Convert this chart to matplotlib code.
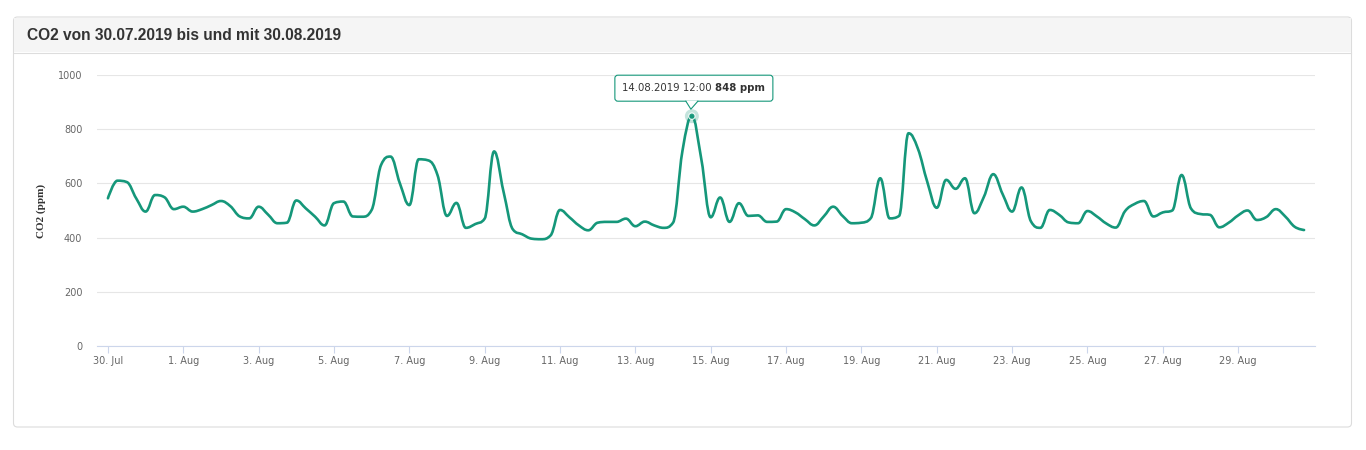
import numpy as np
import pandas as pd
import matplotlib
matplotlib.use("Agg")
import matplotlib.pyplot as plt
import matplotlib.dates as mdates
from matplotlib.path import Path
from matplotlib.patches import PathPatch, FancyBboxPatch, Rectangle, Polygon, Circle
from matplotlib.transforms import IdentityTransform
from matplotlib.lines import Line2D

# ---------------- data ----------------
title = "CO2 von 30.07.2019 bis und mit 30.08.2019"
y_label = "CO2 (ppm)"
start_time = "2019-07-30 00:00"
step = "6h"
co2 = [
    545, 610, 605, 545, 496, 557, 549, 505, 514, 496, 505, 520, 535, 516, 478, 471,
    514, 485, 453, 455, 537, 508, 477, 445, 527, 533, 478, 477, 502, 668, 699, 600,
    520, 689, 685, 630, 480, 528, 436, 450, 470, 718, 570, 430, 412, 396, 394, 408,
    502, 475, 445, 427, 455, 458, 458, 470, 442, 459, 445, 436, 455, 720, 848, 690,
    475, 548, 458, 527, 480, 482, 458, 459, 505, 493, 468, 445, 478, 514, 480, 453,
    455, 472, 619, 471, 480, 785, 728, 605, 510, 613, 580, 619, 490, 550, 634, 560,
    496, 585, 460, 436, 502, 484, 456, 453, 498, 478, 452, 437, 498, 524, 535, 478,
    493, 500, 631, 507, 487, 484, 438, 455, 482, 500, 465, 476, 505, 478, 440, 428,
]
tick_dates = ["2019-07-30", "2019-08-01", "2019-08-03", "2019-08-05", "2019-08-07",
              "2019-08-09", "2019-08-11", "2019-08-13", "2019-08-15", "2019-08-17",
              "2019-08-19", "2019-08-21", "2019-08-23", "2019-08-25", "2019-08-27",
              "2019-08-29"]
tick_labels = ["30. Jul", "1. Aug", "3. Aug", "5. Aug", "7. Aug", "9. Aug", "11. Aug",
               "13. Aug", "15. Aug", "17. Aug", "19. Aug", "21. Aug", "23. Aug",
               "25. Aug", "27. Aug", "29. Aug"]
y_ticks = [0, 200, 400, 600, 800, 1000]
tooltip_time = "14.08.2019 12:00"
tooltip_unit = "ppm"

LINE = "#15977a"
W, H = 1366, 450

times = pd.date_range(start_time, periods=len(co2), freq=step)
xnum = mdates.date2num(times.to_pydatetime())
yval = np.array(co2, dtype=float)


def hc_spline_path(x, y, s=1.5):
    """Highcharts-style spline (bezier control points) as a matplotlib Path."""
    n = len(x)
    d = s + 1
    lc = [(x[i], y[i]) for i in range(n)]
    rc = [(x[i], y[i]) for i in range(n)]
    for i in range(1, n - 1):
        px, py = x[i], y[i]
        lx, ly = x[i - 1], y[i - 1]
        nx, ny = x[i + 1], y[i + 1]
        lcx = (s * px + lx) / d
        lcy = (s * py + ly) / d
        rcx = (s * px + nx) / d
        rcy = (s * py + ny) / d
        corr = 0.0
        if rcx != lcx:
            corr = ((rcy - lcy) * (rcx - px)) / (rcx - lcx) + py - rcy
        lcy += corr
        rcy += corr
        if lcy > ly and lcy > py:
            lcy = max(ly, py); rcy = 2 * py - lcy
        elif lcy < ly and lcy < py:
            lcy = min(ly, py); rcy = 2 * py - lcy
        if rcy > ny and rcy > py:
            rcy = max(ny, py); lcy = 2 * py - rcy
        elif rcy < ny and rcy < py:
            rcy = min(ny, py); lcy = 2 * py - rcy
        lc[i] = (lcx, lcy)
        rc[i] = (rcx, rcy)
    verts = [(x[0], y[0])]
    codes = [Path.MOVETO]
    for i in range(1, n):
        verts += [rc[i - 1], lc[i], (x[i], y[i])]
        codes += [Path.CURVE4] * 3
    return Path(verts, codes)


fig = plt.figure(figsize=(W / 100, H / 100), dpi=100)
fig.patch.set_facecolor("white")


def fy(y_top):
    return H - y_top


# panel
panel = FancyBboxPatch((13.5, fy(427)), 1338, 410, boxstyle="round,pad=0,rounding_size=4",
                       fc="white", ec="#dcdcdc", lw=0.8, transform=IdentityTransform(), zorder=-2)
fig.add_artist(panel)
header = Rectangle((14, fy(52)), 1337, 34.5, fc="#f5f5f5", ec="none",
                   transform=IdentityTransform(), zorder=-1)
fig.add_artist(header)
fig.add_artist(Line2D([14, 1351], [fy(52.5), fy(52.5)], color="#dddddd", lw=0.8,
                      transform=IdentityTransform(), zorder=-1))
fig.text(27 / W, fy(36) / H, title, ha="left", va="center", fontsize=11.2,
         fontweight="bold", family="Liberation Sans", color="#333333")

# axes
ax_l, ax_r, ax_t, ax_b = 97, 1315, 75, 346
ax = fig.add_axes([ax_l / W, (H - ax_b) / H, (ax_r - ax_l) / W, (ax_b - ax_t) / H])
ax.set_facecolor("none")
t0 = mdates.date2num(pd.Timestamp(start_time).to_pydatetime())
ax.set_xlim(t0 - 0.29, t0 + 32.04)
ax.set_ylim(0, 1000)

for sp in ["top", "right", "left"]:
    ax.spines[sp].set_visible(False)
ax.spines["bottom"].set_color("#ccd6eb")
ax.spines["bottom"].set_linewidth(0.8)

ax.set_yticks(y_ticks)
ax.set_yticklabels([str(v) for v in y_ticks])
ax.tick_params(axis="y", length=0, pad=10.5, labelsize=7, labelcolor="#666666")
ax.yaxis.grid(True, color="#e6e6e6", lw=0.8)
ax.set_axisbelow(True)

tick_num = mdates.date2num(pd.to_datetime(tick_dates).to_pydatetime())
ax.set_xticks(tick_num)
ax.set_xticklabels(tick_labels)
ax.tick_params(axis="x", length=5, width=0.8, color="#ccd6eb", pad=2,
               labelsize=7, labelcolor="#666666")
for lab in ax.get_xticklabels() + ax.get_yticklabels():
    lab.set_family("DejaVu Sans")

ax.set_ylabel(y_label, fontsize=8, fontweight="bold", family="Liberation Serif", color="#333333")
ax.yaxis.set_label_coords((46 - ax_l) / (ax_r - ax_l), 0.5)

path = hc_spline_path(xnum, yval)
ax.add_patch(PathPatch(path, fill=False, ec=LINE, lw=1.9, joinstyle="round",
                       capstyle="round", zorder=3))

# hover marker + tooltip
ip = int(np.argmax(yval))
px, py = ax.transData.transform((xnum[ip], yval[ip]))
ax.add_artist(Circle((xnum[ip], yval[ip]), radius=0, visible=False))
halo = Circle((px, py), 7, fc=LINE, ec="none", alpha=0.25, transform=IdentityTransform(), zorder=4)
fig.add_artist(halo)
mk = Circle((px, py), 3.2, fc=LINE, ec="white", lw=0.8, alpha=0.9,
            transform=IdentityTransform(), zorder=4)
fig.add_artist(mk)

bl, br = px - 77, px + 81
bb, bt = py + 15, py + 41
box = FancyBboxPatch((bl, bb), br - bl, bt - bb, boxstyle="round,pad=0,rounding_size=3",
                     fc=(1, 1, 1, 0.92), ec=LINE, lw=0.8, transform=IdentityTransform(), zorder=6)
fig.add_artist(box)
tri = Polygon([(px - 6, bb + 0.6), (px + 6, bb + 0.6), (px - 1, py + 7)], closed=True,
              fc="white", ec="none", transform=IdentityTransform(), zorder=7)
fig.add_artist(tri)
fig.add_artist(Line2D([px - 6, px - 1, px + 6], [bb, py + 7, bb], color=LINE, lw=0.8,
                      transform=IdentityTransform(), zorder=7))

ty = (bb + bt) / 2
t1 = fig.text(bl + 7.5, ty, tooltip_time + " ", ha="left", va="center", fontsize=7.3,
              family="DejaVu Sans", color="#333333", transform=IdentityTransform(), zorder=8)
renderer = fig.canvas.get_renderer()
ext = t1.get_window_extent(renderer)
fig.text(ext.x1, ty, f"{int(yval[ip])} {tooltip_unit}", ha="left", va="center", fontsize=7.3,
         fontweight="bold", family="DejaVu Sans", color="#333333",
         transform=IdentityTransform(), zorder=8)

fig.savefig("out.png", dpi=100)
